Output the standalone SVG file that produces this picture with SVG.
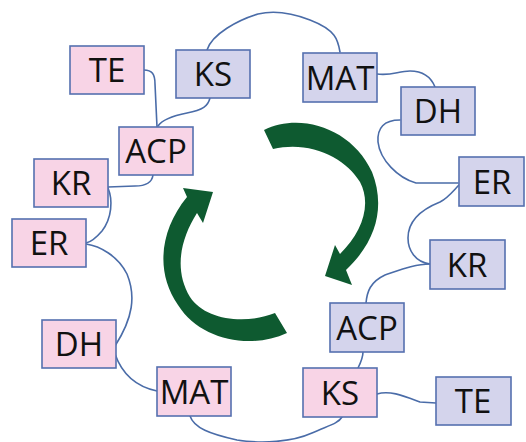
<svg xmlns="http://www.w3.org/2000/svg" width="526" height="442" viewBox="0 0 526 442">
<style>
.box rect{stroke:#5570b0;stroke-width:1.6}
.pink rect{fill:#f8d4e6}
.lav rect{fill:#d4d4ec}
.box text{font-family:"Open Sans","Liberation Sans",sans-serif;font-size:33px;fill:#111;text-anchor:middle}
#connectors path{fill:none;stroke:#4a6ca8;stroke-width:1.6;stroke-linecap:round}
.arrow{fill:#0e5a30}
</style>
<rect width="526" height="442" fill="#ffffff"/>
<g id="connectors">
<path d="M144,70 C152,70 155,74 155,84 L157,127"/>
<path d="M210,98 C208,106 203,110 187,113 C172,116 162,120 158,126"/>
<path d="M153,175 C152,183 146,186 135,186 L108,187"/>
<path d="M108,188 C113,200 112,218 102,231 C96,238 91,242 86,243"/>
<path d="M86,244 C100,246 118,256 127,274 C136,296 133,318 115,346"/>
<path d="M115,354 C121,371 133,386 157,391"/>
<path d="M190,416 C194,428 210,434 237,440 C262,444 292,442 312,433 C327,426 338,424 342,417"/>
<path d="M377,394 C390,390 404,396 420,402 L436,403"/>
<path d="M358,368 C361,362 363,358 363,352"/>
<path d="M366,303 C367,292 370,282 385,275 C400,270 415,264 430,264"/>
<path d="M430,264 C415,262 408,250 408,238 C408,222 420,210 440,202 C448,198 454,190 459,185"/>
<path d="M458,183 L416,183 C398,178 380,160 378,142 C377,128 384,120 400,120"/>
<path d="M435,87 C431,77 424,71 410,71 C398,71 392,76 377,74"/>
<path d="M340,52 C338,40 336,30 310,20 C292,13 275,10 258,14 C238,20 212,34 207,50"/>
</g>
<path class="arrow" d="M264,130 C300,112 352,128 372,172 C385,205 378,240 346,270 L352,285 L325,276 L335,245 L340,254 C362,232 372,205 360,182 C346,158 310,140 273,149 Z"/>
<path class="arrow" d="M287,333 C250,350 200,340 178,305 C155,272 160,230 187,197 L183,188 L213,192 L203,223 L197,213 C180,240 174,270 190,297 C205,320 245,325 275,313 Z"/>
<g id="TE1" class="box pink"><rect x="70" y="46" width="74" height="48"/><text x="107" y="82">TE</text></g>
<g id="KS1" class="box lav"><rect x="176" y="50" width="74" height="48"/><text x="213" y="86">KS</text></g>
<g id="ACP1" class="box pink"><rect x="119" y="127" width="74" height="48"/><text x="156" y="163">ACP</text></g>
<g id="KR1" class="box pink"><rect x="34" y="159" width="74" height="48"/><text x="71" y="195">KR</text></g>
<g id="ER1" class="box pink"><rect x="12" y="219" width="74" height="48"/><text x="49" y="255">ER</text></g>
<g id="DH1" class="box pink"><rect x="42" y="320" width="74" height="48"/><text x="79" y="356">DH</text></g>
<g id="MAT1" class="box pink"><rect x="157" y="367" width="74" height="49"/><text x="194" y="404">MAT</text></g>
<g id="MAT2" class="box lav"><rect x="303" y="53" width="74" height="49"/><text x="340" y="90">MAT</text></g>
<g id="DH2" class="box lav"><rect x="401" y="87" width="74" height="48"/><text x="438" y="123">DH</text></g>
<g id="ER2" class="box lav"><rect x="459" y="157" width="65" height="49"/><text x="492" y="194">ER</text></g>
<g id="KR2" class="box lav"><rect x="430" y="240" width="75" height="49"/><text x="467" y="277">KR</text></g>
<g id="ACP2" class="box lav"><rect x="330" y="303" width="74" height="49"/><text x="367" y="340">ACP</text></g>
<g id="KS2" class="box pink"><rect x="303" y="368" width="74" height="49"/><text x="340" y="405">KS</text></g>
<g id="TE2" class="box lav"><rect x="436" y="377" width="75" height="48"/><text x="473" y="413">TE</text></g>
</svg>
